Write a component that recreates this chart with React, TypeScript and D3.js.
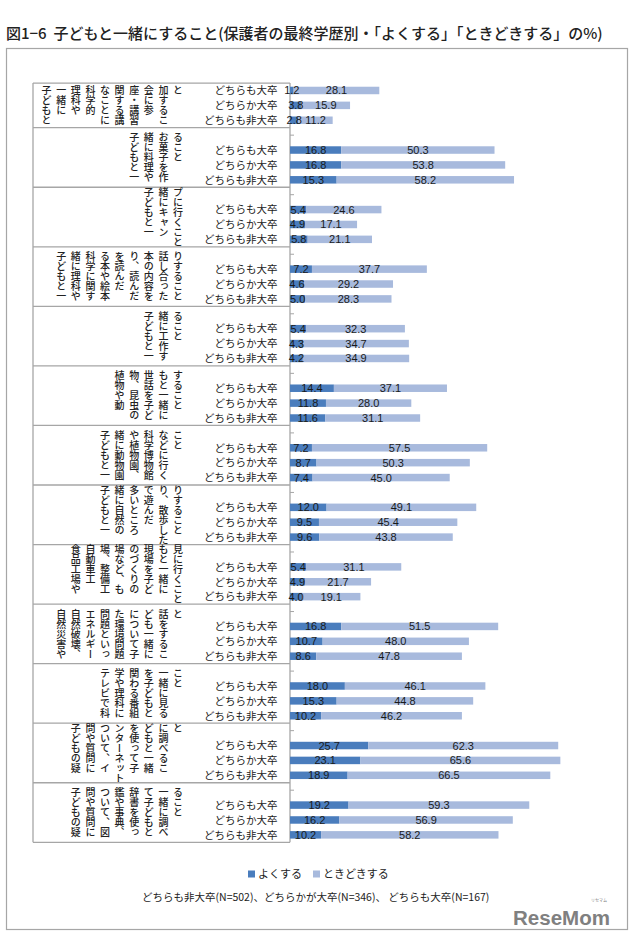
import React from 'react';
import * as d3 from 'd3';

const titleText = '図1−6\u00a0\u00a0子どもと一緒にすること(保護者の最終学歴別・「よくする」「ときどきする」の%)';
const rowLabels = ['どちらも大卒', 'どちらか大卒', 'どちらも非大卒'];
const seriesNames = ['よくする', 'ときどきする'];
const footnoteText = 'どちらも非大卒(N=502)、どちらかが大卒(N=346)、\u00a0どちらも大卒(N=167)';

const categoryColumns: string[][] = [
  ['子どもと', '一緒に', '理科や', '科学的', 'なことに', '関する講', '座・講習', '会に参', '加するこ', 'と'],
  ['子どもと一', '緒に料理や', 'お菓子を作', 'ること'],
  ['子どもと一', '緒にキャン', 'プに行くこと'],
  ['子どもと一', '緒に理科や', '科学に関す', 'る本や絵本', 'を読んだ', 'り、読んだ', '本の内容を', '話し合った', 'りすること'],
  ['子どもと一', '緒に工作す', 'ること'],
  ['植物や動', '物、昆虫の', '世話を子ど', 'もと一緒に', 'すること'],
  ['子どもと一', '緒に動物園', 'や植物園、', '科学博物館', 'などに行く', 'こと'],
  ['子どもと一', '緒に自然の', '多いところ', 'で遊んだ', 'り、散歩した', 'りすること'],
  ['食品工場や', '自動車工', '場、整備工', '場など、も', 'のづくりの', '現場を子ど', 'もと一緒に', '見に行くこと'],
  ['自然災害や', '自然破壊、', 'エネルギー', '問題といっ', 'た環境問題', 'について子', 'ども一緒に', '話をするこ', 'と'],
  ['テレビで科', '学や理科に', '関わる番組', 'を子どもと', '一緒に見る', 'こと'],
  ['子どもの疑', '問や質問に', 'ついて、イ', 'ンターネット', 'を使って子', 'どもと一緒', 'に調べるこ', 'と'],
  ['子どもの疑', '問や質問に', 'ついて、図', '鑑や事典、', '辞書を使っ', 'て子どもと', '一緒に調べ', 'ること'],
];

// よくする values per group: [どちらも大卒, どちらか大卒, どちらも非大卒]
const yokuValues: number[][] = [
  [1.2, 3.8, 2.8],
  [16.8, 16.8, 15.3],
  [5.4, 4.9, 5.8],
  [7.2, 4.6, 5.0],
  [5.4, 4.3, 4.2],
  [14.4, 11.8, 11.6],
  [7.2, 8.7, 7.4],
  [12.0, 9.5, 9.6],
  [5.4, 4.9, 4.0],
  [16.8, 10.7, 8.6],
  [18.0, 15.3, 10.2],
  [25.7, 23.1, 18.9],
  [19.2, 16.2, 10.2],
];

// ときどきする values per group
const tokiValues: number[][] = [
  [28.1, 15.9, 11.2],
  [50.3, 53.8, 58.2],
  [24.6, 17.1, 21.1],
  [37.7, 29.2, 28.3],
  [32.3, 34.7, 34.9],
  [37.1, 28.0, 31.1],
  [57.5, 50.3, 45.0],
  [49.1, 45.4, 43.8],
  [31.1, 21.7, 19.1],
  [51.5, 48.0, 47.8],
  [46.1, 44.8, 46.2],
  [62.3, 65.6, 66.5],
  [59.3, 56.9, 58.2],
];

const JP = '"Noto Sans CJK JP", "Noto Sans", sans-serif';
const NUM = '"Liberation Sans", Arial, sans-serif';
const DARK = '#4a7dbd';
const LIGHT = '#a8badd';
const GRID = '#a6a6a6';

export default function App() {
  const W = 640;
  const H = 940;
  const axisX = 290;
  const x = d3.scaleLinear().domain([0, 100]).range([axisX, axisX + 304.8]);
  const groups = d3.range(categoryColumns.length);
  const gy = d3.scaleBand<number>().domain(groups).range([68.15, 842.3]).padding(0);
  const slot = d3.scaleBand<number>().domain([0, 1, 2, 3]).range([0, gy.bandwidth()]).padding(0);
  const s = slot.bandwidth();
  const barH = 7.5;
  const tableLeft = 33;
  const colPitch = 14.6;
  const colLastX = 178;
  const charSize = 10;
  const fmt = d3.format('.1f');

  const rowY = (g: number, j: number) => (gy(g) as number) + (slot(j + 1) as number) + s / 2;
  const tableTop = (g: number) => (g === 0 ? (gy(0) as number) + s : (gy(g) as number));
  const tableBottom = (gy(groups.length - 1) as number) + gy.bandwidth();

  return (
    <div style={{ position: 'absolute', left: 0, top: 0, width: W, height: H, background: '#fff' }}>
      <svg width={W} height={H} style={{ display: 'block' }}>
        <rect x={0} y={0} width={W} height={H} fill="#fff" />
        <text x={6} y={39} fontFamily={JP} fontSize={15} fontWeight={500} fill="#222">{titleText}</text>
        <rect x={6.5} y={48.5} width={621} height={881} fill="none" stroke={GRID} strokeWidth={1.2} />

        {/* label table */}
        <line x1={tableLeft} x2={tableLeft} y1={tableTop(0)} y2={tableBottom} stroke={GRID} strokeWidth={1.3} />
        {groups.map((g) => (
          <line key={'h' + g} x1={tableLeft} x2={axisX} y1={tableTop(g)} y2={tableTop(g)} stroke={GRID} strokeWidth={1.3} />
        ))}
        <line x1={tableLeft} x2={axisX} y1={tableBottom} y2={tableBottom} stroke={GRID} strokeWidth={1.3} />
        <line x1={axisX} x2={axisX} y1={tableTop(0)} y2={tableBottom} stroke={GRID} strokeWidth={1.3} />
        {groups.filter((g) => g > 0).map((g) => {
          const ty = (gy(g) as number) + s / 2;
          return <line key={'t' + g} x1={axisX} x2={axisX + 4} y1={ty} y2={ty} stroke={GRID} strokeWidth={1} />;
        })}

        {/* category vertical labels */}
        {categoryColumns.map((cols, g) => {
          const top = tableTop(g);
          const bottom = (gy(g) as number) + gy.bandwidth();
          const maxLen = d3.max(cols, (c) => c.length) as number;
          const blockH = maxLen * charSize;
          const startY = (top + bottom) / 2 - blockH / 2;
          return (
            <g key={'c' + g}>
              {cols.map((c, i) => (
                <text
                  key={i}
                  x={colLastX - (cols.length - 1 - i) * colPitch}
                  y={startY}
                  fontFamily={JP}
                  fontSize={charSize}
                  fontWeight={500}
                  fill="#222"
                  style={{ writingMode: 'vertical-rl' } as React.CSSProperties}
                >
                  {c}
                </text>
              ))}
            </g>
          );
        })}

        {/* row labels and bars */}
        {groups.map((g) => (
          <g key={'g' + g}>
            {rowLabels.map((lab, j) => {
              const cy = rowY(g, j);
              const a = yokuValues[g][j];
              const b = tokiValues[g][j];
              return (
                <g key={j}>
                  <text x={277.5} y={cy + 3.8} textAnchor="end" fontFamily={JP} fontSize={10.5} fill="#222">{lab}</text>
                  <rect x={x(0)} y={cy - barH / 2} width={x(a) - x(0)} height={barH} fill={DARK} />
                  <rect x={x(a)} y={cy - barH / 2} width={x(a + b) - x(a)} height={barH} fill={LIGHT} />
                  <text x={(x(0) + x(a)) / 2} y={cy + 4} textAnchor="middle" fontFamily={NUM} fontSize={11} fill="#1a1a1a">{fmt(a)}</text>
                  <text x={(x(a) + x(a + b)) / 2} y={cy + 4} textAnchor="middle" fontFamily={NUM} fontSize={11} fill="#1a1a1a">{fmt(b)}</text>
                </g>
              );
            })}
          </g>
        ))}

        {/* legend */}
        <rect x={248} y={870.5} width={7} height={7} fill={DARK} />
        <text x={258} y={878} fontFamily={JP} fontSize={11} fill="#222">{seriesNames[0]}</text>
        <rect x={313} y={870.5} width={7} height={7} fill={LIGHT} />
        <text x={323} y={878} fontFamily={JP} fontSize={11} fill="#222">{seriesNames[1]}</text>

        <text x={142} y={901} fontFamily={JP} fontSize={10.5} fill="#222">{footnoteText}</text>

        {/* watermark */}
        <text x={513} y={925} fontFamily={NUM} fontWeight="bold" fontSize={20} fill="#808080" textLength={97} lengthAdjust="spacingAndGlyphs">ReseMom</text>
        <text x={591} y={902} fontFamily={JP} fontSize={4} fill="#808080">リセマム</text>
      </svg>
    </div>
  );
}
